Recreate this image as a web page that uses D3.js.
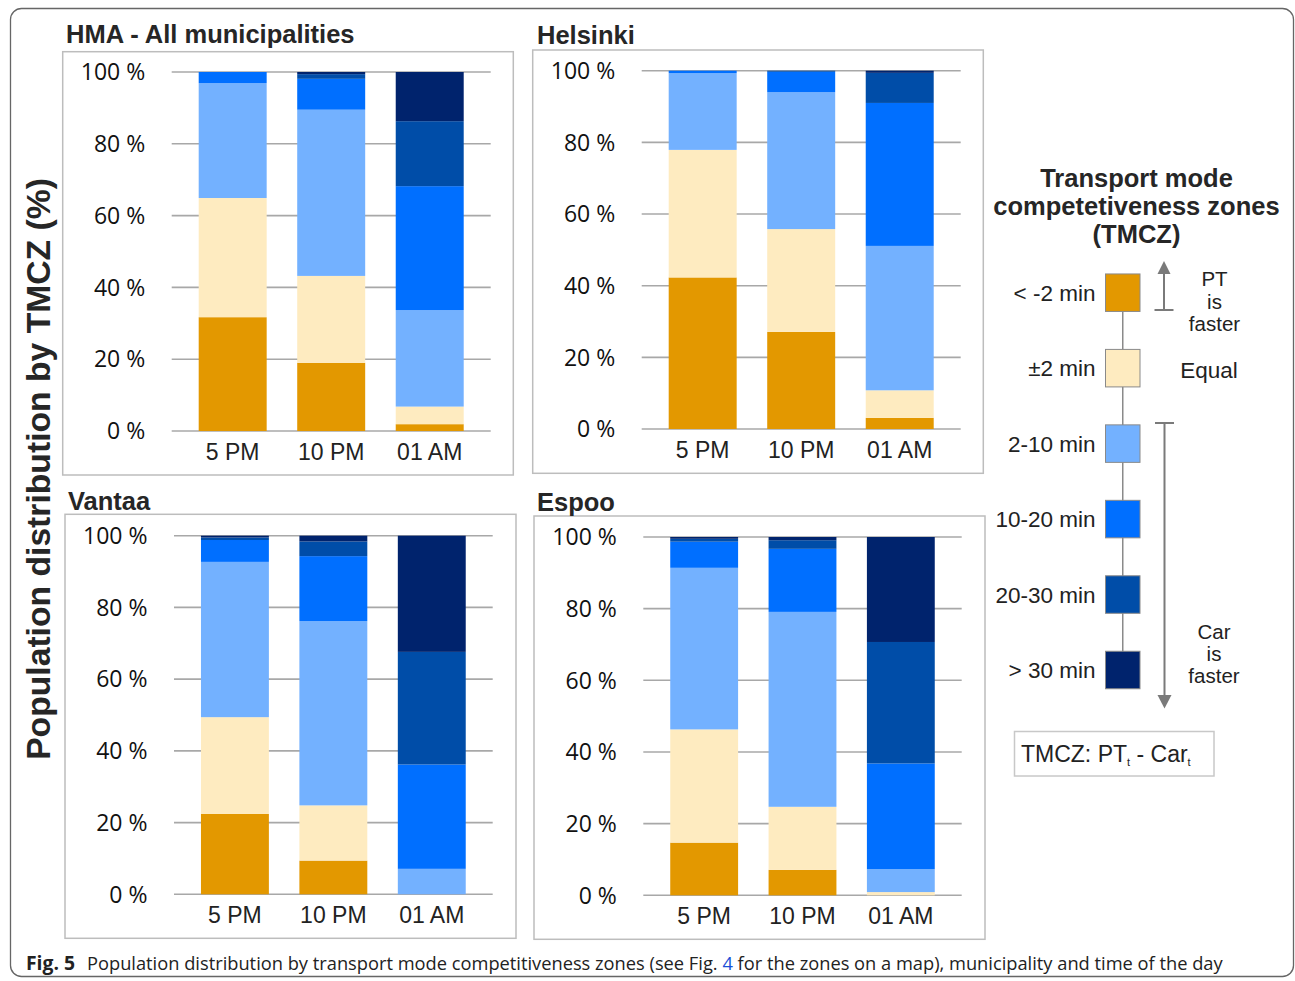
<!DOCTYPE html>
<html>
<head>
<meta charset="utf-8">
<script src="https://cdn.jsdelivr.net/npm/d3@7"></script>
<style>
  html, body { margin: 0; padding: 0; background: #fff; }
  svg { display: block; }
</style>
</head>
<body>
<svg id="chart" width="1295" height="981"></svg>
<script>
// ---------------- DATA ----------------
const times = ["5 PM", "10 PM", "01 AM"];
const zones = ["< -2 min", "±2 min", "2-10 min", "10-20 min", "20-30 min", "> 30 min"];
const zoneColors = ["#E39800", "#FEEBC0", "#73B1FF", "#006FFF", "#004DA8", "#00236D"];
const yTicks = [0, 20, 40, 60, 80, 100];
const yTickLabels = ["0 %", "20 %", "40 %", "60 %", "80 %", "100 %"];
const panelTitles = ["HMA - All municipalities", "Helsinki", "Vantaa", "Espoo"];

// values per time: [< -2, ±2, 2-10, 10-20, 20-30, > 30] (%)
const hmaValues = [
  [31.7, 33.2, 32.0, 3.1, 0.0, 0.0],
  [19.0, 24.2, 46.3, 8.6, 1.3, 0.6],
  [1.9, 4.9, 26.9, 34.5, 18.1, 13.7]
];
const helsinkiValues = [
  [42.3, 35.6, 21.4, 0.7, 0.0, 0.0],
  [27.1, 28.7, 38.2, 5.7, 0.3, 0.0],
  [3.1, 7.7, 40.3, 39.9, 8.4, 0.6]
];
const vantaaValues = [
  [22.4, 27.0, 43.3, 6.1, 0.7, 0.5],
  [9.4, 15.4, 51.4, 18.1, 4.1, 1.6],
  [0.0, 0.0, 7.1, 29.1, 31.4, 32.4]
];
const espooValues = [
  [14.7, 31.6, 45.1, 7.3, 0.8, 0.5],
  [7.1, 17.6, 54.4, 17.6, 2.4, 0.9],
  [0.0, 0.9, 6.4, 29.5, 33.9, 29.3]
];
const panelValues = [hmaValues, helsinkiValues, vantaaValues, espooValues];

const legendTitle = ["Transport mode", "competetiveness zones", "(TMCZ)"];
const yAxisTitle = "Population distribution by TMCZ (%)";

// ---------------- LAYOUT ----------------
const svg = d3.select("#chart");
const SANS = "'Liberation Sans', Arial, sans-serif";
const TICKFONT = "'Open Sans', sans-serif";

// outer rounded frame
svg.append("rect")
  .attr("x", 10.5).attr("y", 8.5).attr("width", 1283).attr("height", 968)
  .attr("rx", 11).attr("fill", "none").attr("stroke", "#666").attr("stroke-width", 1.3);

const panels = [
  { box: [62.7, 51.7, 513.3, 475], title: [66, 43], gx: [171.7, 490.7], y: [431, 72] },
  { box: [532.7, 50, 983.3, 473.3], title: [537, 43.5], gx: [641.7, 960.7], y: [429, 70.7] },
  { box: [65, 514.3, 516, 938.3], title: [68, 509.5], gx: [174, 492.7], y: [894.3, 535.7] },
  { box: [534, 516, 985, 939.3], title: [537, 510.5], gx: [643.3, 961.7], y: [895.3, 537] }
];

panels.forEach((p, i) => {
  const g = svg.append("g");
  g.append("rect")
    .attr("x", p.box[0]).attr("y", p.box[1])
    .attr("width", p.box[2] - p.box[0]).attr("height", p.box[3] - p.box[1])
    .attr("fill", "#fff").attr("stroke", "#bdbdbd").attr("stroke-width", 1.5);
  g.append("text")
    .attr("x", p.title[0]).attr("y", p.title[1])
    .attr("font-family", SANS).attr("font-weight", "bold").attr("font-size", 25.5)
    .attr("fill", "#262626")
    .text(panelTitles[i]);

  const x = d3.scaleBand().domain(times).range(p.gx).paddingInner(0.31).paddingOuter(0.274);
  const y = d3.scaleLinear().domain([0, 100]).range(p.y);

  g.append("g").selectAll("line").data(yTicks).join("line")
    .attr("x1", p.gx[0]).attr("x2", p.gx[1])
    .attr("y1", d => y(d)).attr("y2", d => y(d))
    .attr("stroke", "#a8a8a8").attr("stroke-width", 1.6);

  g.append("g").selectAll("text").data(yTicks).join("text")
    .attr("x", p.gx[0] - 26.5).attr("y", d => y(d)).attr("dy", "0.36em")
    .attr("text-anchor", "end")
    .attr("font-family", TICKFONT).attr("font-size", 23).attr("fill", "#111")
    .text((d, k) => yTickLabels[k]);

  const rows = times.map((t, k) => {
    const o = { time: t };
    zones.forEach((z, j) => { o[z] = panelValues[i][k][j]; });
    return o;
  });
  const series = d3.stack().keys(zones)(rows);
  g.append("g").selectAll("g").data(series).join("g")
    .attr("fill", (d, j) => zoneColors[j])
    .selectAll("rect").data(d => d).join("rect")
    .attr("x", d => x(d.data.time))
    .attr("width", x.bandwidth())
    .attr("y", d => y(d[1]))
    .attr("height", d => Math.max(0, y(d[0]) - y(d[1])));

  g.append("g").selectAll("text").data(times).join("text")
    .attr("x", d => x(d) + x.bandwidth() / 2).attr("y", p.y[0] + 29)
    .attr("text-anchor", "middle")
    .attr("font-family", SANS).attr("font-size", 23).attr("fill", "#222")
    .text(d => d);
});

// y axis title
const yt = svg.append("text")
  .attr("transform", "translate(50,469) rotate(-90)")
  .attr("text-anchor", "middle")
  .attr("font-family", SANS).attr("font-weight", "bold").attr("font-size", 33)
  .attr("fill", "#262626")
  .text(yAxisTitle);
{
  const L = yt.node().getComputedTextLength();
  yt.attr("font-size", 33 * 582 / L);
}

// ---------------- LEGEND ----------------
const lg = svg.append("g");
const ltBase = [186.5, 215, 243];
legendTitle.forEach((t, k) => {
  lg.append("text")
    .attr("x", 1136.5).attr("y", ltBase[k]).attr("text-anchor", "middle")
    .attr("font-family", SANS).attr("font-weight", "bold").attr("font-size", 25.5)
    .attr("fill", "#262626").text(t);
});

const ly = d3.scalePoint().domain(zones).range([292.7, 670]);
const sqX = 1105.5, sqW = 34.5, sqH = 37.5;

lg.append("line")
  .attr("x1", sqX + sqW / 2).attr("x2", sqX + sqW / 2)
  .attr("y1", ly(zones[0])).attr("y2", ly(zones[zones.length - 1]))
  .attr("stroke", "#8a8a8a").attr("stroke-width", 1.5);

lg.selectAll("rect.sq").data(zones).join("rect")
  .attr("class", "sq")
  .attr("x", sqX).attr("y", d => ly(d) - sqH / 2)
  .attr("width", sqW).attr("height", sqH)
  .attr("fill", (d, j) => zoneColors[j])
  .attr("stroke", "#8a8a8a").attr("stroke-width", 1);

lg.selectAll("text.zl").data(zones).join("text")
  .attr("class", "zl")
  .attr("x", 1095.5).attr("y", d => ly(d)).attr("dy", "0.36em")
  .attr("text-anchor", "end")
  .attr("font-family", SANS).attr("font-size", 22.5).attr("fill", "#222")
  .text(d => d);

const AR = "#7a7a7a";
lg.append("line").attr("x1", 1154.5).attr("x2", 1173.5).attr("y1", 310).attr("y2", 310)
  .attr("stroke", AR).attr("stroke-width", 2);
lg.append("line").attr("x1", 1164).attr("x2", 1164).attr("y1", 310).attr("y2", 272)
  .attr("stroke", AR).attr("stroke-width", 2);
lg.append("path").attr("d", "M1164,261 L1170.5,274 L1157.5,274 Z").attr("fill", AR);
lg.append("line").attr("x1", 1155).attr("x2", 1174).attr("y1", 423).attr("y2", 423)
  .attr("stroke", AR).attr("stroke-width", 2);
lg.append("line").attr("x1", 1164.5).attr("x2", 1164.5).attr("y1", 423).attr("y2", 696)
  .attr("stroke", AR).attr("stroke-width", 2);
lg.append("path").attr("d", "M1164.5,708.5 L1171.5,695 L1157.5,695 Z").attr("fill", AR);

const sideFont = 20.5;
[["PT", 286], ["is", 308.5], ["faster", 331]].forEach(([t, yy]) => {
  lg.append("text").attr("x", 1214.5).attr("y", yy).attr("text-anchor", "middle")
    .attr("font-family", SANS).attr("font-size", sideFont).attr("fill", "#222").text(t);
});
lg.append("text").attr("x", 1209).attr("y", 377.5).attr("text-anchor", "middle")
  .attr("font-family", SANS).attr("font-size", 22.5).attr("fill", "#222").text("Equal");
[["Car", 638.5], ["is", 661], ["faster", 683]].forEach(([t, yy]) => {
  lg.append("text").attr("x", 1214).attr("y", yy).attr("text-anchor", "middle")
    .attr("font-family", SANS).attr("font-size", sideFont).attr("fill", "#222").text(t);
});

lg.append("rect").attr("x", 1014.5).attr("y", 731.5).attr("width", 199.5).attr("height", 44.5)
  .attr("fill", "#fff").attr("stroke", "#c8c8c8").attr("stroke-width", 1.5);
const ft = lg.append("text").attr("x", 1021).attr("y", 762)
  .attr("font-family", SANS).attr("font-size", 23).attr("fill", "#222");
ft.append("tspan").text("TMCZ: PT");
ft.append("tspan").attr("font-size", 11).attr("dy", 4).text("t");
ft.append("tspan").attr("dy", -4).text(" - Car");
ft.append("tspan").attr("font-size", 11).attr("dy", 4).text("t");

// ---------------- CAPTION ----------------
const CAPFONT = "'Liberation Sans Narrow', 'Open Sans', sans-serif";
const cap = svg.append("text").attr("x", 26).attr("y", 969.5)
  .attr("font-family", CAPFONT).attr("font-size", 20).attr("fill", "#222");
cap.append("tspan").attr("font-weight", "bold").text("Fig. 5");
const capRest = svg.append("text").attr("x", 87).attr("y", 969.5)
  .attr("font-family", CAPFONT).attr("font-size", 20).attr("fill", "#222");
capRest.append("tspan").text("Population distribution by transport mode competitiveness zones (see Fig. ");
capRest.append("tspan").attr("fill", "#1a4fd6").text("4");
capRest.append("tspan").text(" for the zones on a map), municipality and time of the day");
{
  const L = capRest.node().getComputedTextLength();
  capRest.attr("font-size", Math.min(22, 20 * 1137 / L));
  const L2 = cap.node().getComputedTextLength();
  cap.attr("font-size", Math.min(22, 20 * 49 / L2));
}
</script>
</body>
</html>
